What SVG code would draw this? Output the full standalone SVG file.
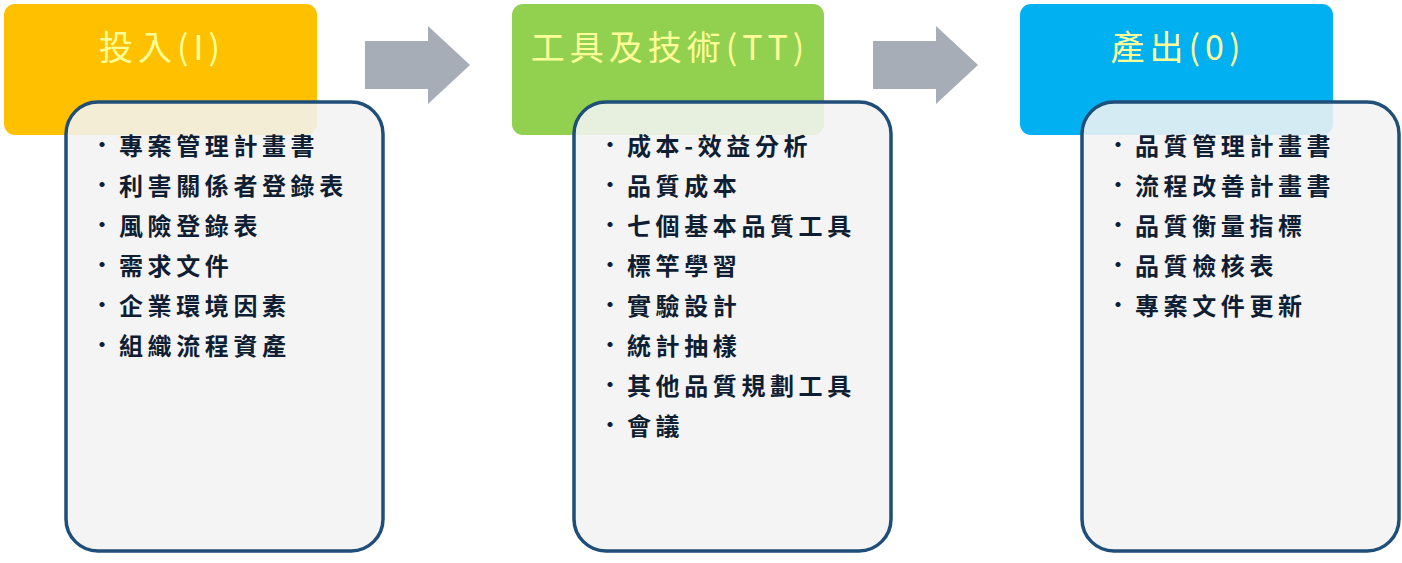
<svg xmlns="http://www.w3.org/2000/svg" width="1402" height="563" viewBox="0 0 1402 563">
<style>
.hd{font-family:"Noto Sans CJK TC","Noto Sans CJK SC",sans-serif;font-size:34px;fill:#FFFF99;text-anchor:middle;letter-spacing:5px}
.card{fill:#F2F2F2;fill-opacity:0.88;stroke:#1F4E79;stroke-width:3.5}
.li{font-family:"Noto Sans CJK TC","Noto Sans CJK SC",sans-serif;font-size:24px;font-weight:bold;fill:#0F1E33;letter-spacing:4.6px}
.bu{font-family:"Noto Sans CJK TC","Noto Sans CJK SC",sans-serif;font-size:20px;font-weight:bold;fill:#0F1E33}
.arr{fill:#A6ADB6}
</style>
<rect width="1402" height="563" fill="#FFFFFF"/>
<g id="connectors">
<polygon class="arr" points="365,41 428,41 428,26 470,65 428,104 428,89 365,89"/>
<polygon class="arr" points="873,41 936,41 936,26 978,65 936,104 936,89 873,89"/>
</g>
<g id="node-input">
<rect x="4" y="4" width="313" height="131" rx="11" fill="#FFC000"/>
<text class="hd" x="162" y="60">投入(I)</text>
<rect class="card" x="66" y="102" width="317" height="449" rx="32"/>
<text class="bu" x="92" y="152">•</text><text class="li" x="119" y="155">專案管理計畫書</text>
<text class="bu" x="92" y="192">•</text><text class="li" x="119" y="195">利害關係者登錄表</text>
<text class="bu" x="92" y="232">•</text><text class="li" x="119" y="235">風險登錄表</text>
<text class="bu" x="92" y="272">•</text><text class="li" x="119" y="275">需求文件</text>
<text class="bu" x="92" y="312">•</text><text class="li" x="119" y="315">企業環境因素</text>
<text class="bu" x="92" y="352">•</text><text class="li" x="119" y="355">組織流程資產</text>
</g>
<g id="node-tt">
<rect x="512" y="4" width="312" height="131" rx="11" fill="#92D050"/>
<text class="hd" x="670" y="60">工具及技術(TT)</text>
<rect class="card" x="574" y="102" width="317" height="449" rx="32"/>
<text class="bu" x="600" y="152">•</text><text class="li" x="627" y="155">成本-效益分析</text>
<text class="bu" x="600" y="192">•</text><text class="li" x="627" y="195">品質成本</text>
<text class="bu" x="600" y="232">•</text><text class="li" x="627" y="235">七個基本品質工具</text>
<text class="bu" x="600" y="272">•</text><text class="li" x="627" y="275">標竿學習</text>
<text class="bu" x="600" y="312">•</text><text class="li" x="627" y="315">實驗設計</text>
<text class="bu" x="600" y="352">•</text><text class="li" x="627" y="355">統計抽樣</text>
<text class="bu" x="600" y="392">•</text><text class="li" x="627" y="395">其他品質規劃工具</text>
<text class="bu" x="600" y="432">•</text><text class="li" x="627" y="435">會議</text>
</g>
<g id="node-output">
<rect x="1020" y="4" width="313" height="131" rx="11" fill="#00B0F0"/>
<text class="hd" x="1178" y="60">產出(0)</text>
<rect class="card" x="1082" y="102" width="317" height="449" rx="32"/>
<text class="bu" x="1108" y="152">•</text><text class="li" x="1135" y="155">品質管理計畫書</text>
<text class="bu" x="1108" y="192">•</text><text class="li" x="1135" y="195">流程改善計畫書</text>
<text class="bu" x="1108" y="232">•</text><text class="li" x="1135" y="235">品質衡量指標</text>
<text class="bu" x="1108" y="272">•</text><text class="li" x="1135" y="275">品質檢核表</text>
<text class="bu" x="1108" y="312">•</text><text class="li" x="1135" y="315">專案文件更新</text>
</g>
</svg>
